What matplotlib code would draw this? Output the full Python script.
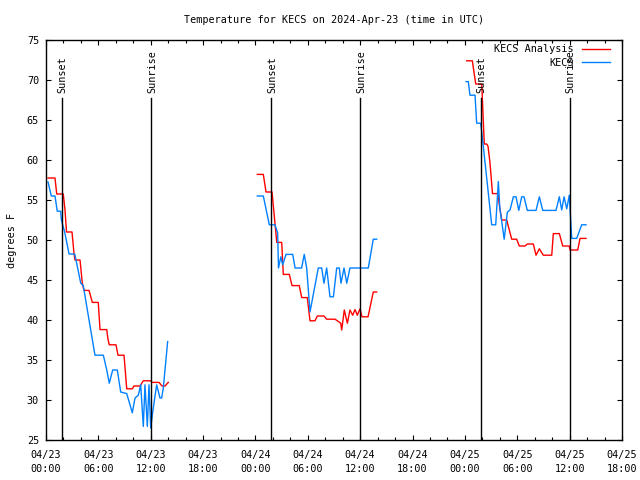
import matplotlib
matplotlib.use("Agg")
import matplotlib.pyplot as plt
from matplotlib.ticker import MultipleLocator, FixedLocator

# time in hours since 2024-04-23 00:00 UTC
analysis_t1 = [0.23, 1.03, 1.23, 1.98, 2.18, 2.35, 2.98, 3.21, 3.32, 3.90, 4.16, 4.35, 4.93, 5.31, 5.99,
               6.19, 6.96, 7.10, 7.25, 8.02, 8.25, 8.94, 9.25, 9.89, 10.08, 10.77, 11.15, 12.00, 12.15,
               12.95, 13.29, 13.64, 14.01]
analysis_v1 = [57.75, 57.75, 55.75, 55.75, 53.7, 51.0, 51.0, 48.3, 47.5, 47.5, 44.6, 43.7, 43.7, 42.2, 42.2,
               38.8, 38.8, 37.6, 36.9, 36.9, 35.6, 35.6, 31.4, 31.4, 31.75, 31.75, 32.4, 32.4, 32.2,
               32.2, 31.75, 31.75, 32.2]
obs_t1 = [0.23, 0.61, 1.03, 1.29, 1.68, 1.76, 2.14, 2.64, 3.29, 3.44, 3.98, 4.27, 5.61, 6.57, 6.96, 7.25,
          7.64, 8.17, 8.56, 9.25, 9.89, 10.20, 10.58, 10.85, 11.15, 11.34, 11.61, 11.80, 12.00, 12.26,
          12.68, 13.06, 13.25, 13.44, 13.94]
obs_v1 = [57.25, 55.5, 55.5, 53.6, 53.6, 52.5, 51.0, 48.25, 48.25, 47.5, 44.6, 44.3, 35.6, 35.6, 33.75, 32.1,
          33.75, 33.75, 31.0, 30.8, 28.4, 30.25, 30.6, 31.9, 26.7, 31.9, 26.7, 31.9, 26.5, 28.75,
          31.9, 30.25, 30.25, 31.5, 37.3]

analysis_t2 = [24.21, 24.90, 25.21, 25.90, 26.44, 27.01, 27.19, 27.88, 28.19, 29.02, 29.30, 29.94, 30.25,
               30.82, 31.09, 31.85, 32.16, 33.12, 33.77, 33.88, 34.18, 34.53, 34.83, 35.14, 35.41, 35.67,
               35.98, 36.21, 36.90, 37.50, 37.89]
analysis_v2 = [58.2, 58.2, 56.0, 56.0, 49.7, 49.7, 45.7, 45.7, 44.3, 44.3, 42.8, 42.8, 39.9,
               39.9, 40.5, 40.5, 40.1, 40.1, 39.6, 38.75, 41.25, 39.6, 41.25, 40.6, 41.3, 40.6,
               41.4, 40.4, 40.4, 43.5, 43.5]
obs_t2 = [24.21, 24.90, 25.59, 26.24, 26.54, 26.64, 26.91, 27.12, 27.50, 28.27, 28.54, 29.29, 29.59, 29.87,
          30.25, 31.20, 31.59, 31.85, 32.16, 32.54, 32.93, 33.31, 33.61, 33.80, 34.15, 34.46, 34.83,
          36.93, 37.50, 37.89]
obs_v2 = [55.5, 55.5, 51.9, 51.9, 50.9, 46.5, 47.9, 46.9, 48.2, 48.2, 46.5, 46.5, 48.2, 46.5,
          41.0, 46.5, 46.5, 44.6, 46.5, 42.9, 42.9, 46.5, 46.5, 44.6, 46.5, 44.6, 46.5,
          46.5, 50.1, 50.1]

analysis_t3 = [48.20, 48.85, 49.24, 49.93, 50.22, 50.50, 50.65, 50.88, 51.16, 51.76, 51.97, 52.22, 52.79,
               53.17, 53.36, 53.93, 54.23, 54.89, 55.15, 55.84, 56.15, 56.53, 56.98, 57.95, 58.13, 58.82,
               59.21, 59.96, 60.04, 60.93, 61.19, 61.88]
analysis_v3 = [72.4, 72.4, 69.5, 69.5, 62.0, 62.0, 61.7, 59.6, 55.8, 55.8, 54.2, 52.5, 52.5,
               50.9, 50.1, 50.1, 49.25, 49.25, 49.5, 49.5, 48.1, 48.9, 48.1, 48.1, 50.8, 50.8,
               49.25, 49.25, 48.75, 48.75, 50.2, 50.2]
obs_t3 = [48.13, 48.39, 48.58, 49.16, 49.35, 49.81, 50.03, 51.07, 51.53, 51.83, 52.00, 52.50, 52.87, 53.17,
          53.55, 53.86, 54.17, 54.51, 54.77, 55.15, 56.15, 56.53, 56.92, 58.44, 58.82, 59.09, 59.36,
          59.67, 59.96, 60.24, 60.81, 61.38, 61.88]
obs_v3 = [69.8, 69.8, 68.1, 68.1, 64.6, 64.6, 62.5, 51.9, 51.9, 57.3, 54.0, 50.1, 53.5, 53.75,
          55.4, 55.4, 53.7, 55.4, 55.4, 53.7, 53.7, 55.4, 53.7, 53.7, 55.4, 53.75, 55.4,
          53.9, 55.6, 50.2, 50.2, 51.9, 51.9]

sunset_hours = [1.78, 25.77, 49.79]
sunrise_hours = [12.02, 36.01, 59.99]

tick_dates = ["04/23", "04/23", "04/23", "04/23", "04/24", "04/24", "04/24", "04/24",
              "04/25", "04/25", "04/25", "04/25"]
tick_times = ["00:00", "06:00", "12:00", "18:00", "00:00", "06:00", "12:00", "18:00",
              "00:00", "06:00", "12:00", "18:00"]
tick_hours = [0, 6, 12, 18, 24, 30, 36, 42, 48, 54, 60, 66]
y_ticks = [25, 30, 35, 40, 45, 50, 55, 60, 65, 70, 75]

FONT = "DejaVu Sans Mono"
FS = 7.3
RED = "#ff0000"
BLUE = "#0080ff"

fig = plt.figure(figsize=(6.4, 4.8), dpi=100)
ax = fig.add_axes([46 / 640, 40 / 480, 576 / 640, 400 / 480])

ax.plot(analysis_t1, analysis_v1, color=RED, lw=1.0, label="KECS Analysis")
ax.plot(analysis_t2, analysis_v2, color=RED, lw=1.0)
ax.plot(analysis_t3, analysis_v3, color=RED, lw=1.0)
ax.plot(obs_t1, obs_v1, color=BLUE, lw=1.0, label="KECS")
ax.plot(obs_t2, obs_v2, color=BLUE, lw=1.0)
ax.plot(obs_t3, obs_v3, color=BLUE, lw=1.0)

for h in sunset_hours:
    ax.plot([h, h], [25, 67.75], color="black", lw=1.0)
    ax.text(h + 0.15, 68.4, "Sunset", rotation=90, ha="center", va="bottom",
            family=FONT, fontsize=FS)
for h in sunrise_hours:
    ax.plot([h, h], [25, 67.75], color="black", lw=1.0)
    ax.text(h + 0.15, 68.4, "Sunrise", rotation=90, ha="center", va="bottom",
            family=FONT, fontsize=FS)

ax.set_xlim(0, 66)
ax.set_ylim(25, 75)
ax.xaxis.set_major_locator(FixedLocator(tick_hours))
ax.xaxis.set_minor_locator(MultipleLocator(2))
ax.set_xticklabels([d + "\n" + t for d, t in zip(tick_dates, tick_times)],
                   family=FONT, fontsize=FS, linespacing=1.55)
ax.set_yticks(y_ticks)
ax.set_yticklabels([str(v) for v in y_ticks], family=FONT, fontsize=FS)
ax.tick_params(which="both", direction="in", top=True, right=True, width=0.8)
ax.tick_params(which="major", length=3.5)
ax.tick_params(which="minor", length=2.5)
ax.tick_params(axis="x", which="major", pad=7)
ax.tick_params(axis="y", which="major", pad=5)
for s in ax.spines.values():
    s.set_linewidth(1.0)

ax.set_ylabel("degrees F", family=FONT, fontsize=FS, labelpad=7)
ax.set_title("Temperature for KECS on 2024-Apr-23 (time in UTC)", family=FONT,
             fontsize=FS, pad=12)

leg = ax.legend(loc="upper right", bbox_to_anchor=(0.99, 1.005), frameon=False,
                prop={"family": FONT, "size": FS}, markerfirst=False, handlelength=2.8,
                handletextpad=0.8, labelspacing=0.35, borderaxespad=0.2)
for t in leg.get_texts():
    t.set_ha("right")
leg._legend_box.align = "right"

fig.savefig("out.png", dpi=100)
